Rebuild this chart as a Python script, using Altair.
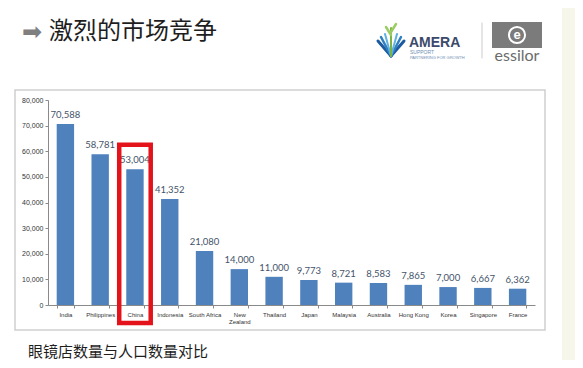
import altair as alt
import pandas as pd

countries = ["India", "Philippines", "China", "Indonesia", "South Africa", "New Zealand",
             "Thailand", "Japan", "Malaysia", "Australia", "Hong Kong", "Korea", "Singapore", "France"]
values = [70588, 58781, 53004, 41352, 21080, 14000, 11000, 9773, 8721, 8583, 7865, 7000, 6667, 6362]
y_ticks = [0, 10000, 20000, 30000, 40000, 50000, 60000, 70000, 80000]
highlight_country = ["China"]
highlight_top = [62500]
highlight_bottom = [-7000]

title_text = "激烈的市场竞争"
subtitle_text = "眼镜店数量与人口数量对比"

df = pd.DataFrame({"country": countries, "value": values})
hl = pd.DataFrame({"country": highlight_country, "top": highlight_top, "bottom": highlight_bottom})
one = pd.DataFrame({"a": [0]})

OX, OY = 48, 100  # plot origin on screen


def px(x):
    return alt.value(x - OX)


def py(y):
    return alt.value(y - OY)


x_scale = alt.Scale(domain=countries, paddingInner=0.5, paddingOuter=0.25)
y_scale = alt.Scale(domain=[0, 80000], nice=False, zero=True)

x_axis = alt.Axis(labelAngle=0, labelFont="Liberation Sans", labelFontSize=6,
                  labelColor="#333333", domainColor="#8a8a8a", tickColor="#8a8a8a",
                  tickSize=3, tickBand="extent", labelPadding=3, labelLineHeight=7,
                  labelOverlap=False, title=None,
                  labelExpr="datum.value == 'New Zealand' ? ['New', 'Zealand'] : datum.value")
y_axis = alt.Axis(values=y_ticks, grid=False, labelFont="Liberation Sans",
                  labelFontSize=7, labelColor="#333333", domainColor="#8a8a8a",
                  tickColor="#8a8a8a", tickSize=3, labelPadding=2, labelOverlap=False, title=None,
                  labelExpr="format(datum.value, ',')")

bars = alt.Chart(df).mark_bar(color="#4f81bd").encode(
    x=alt.X("country:N", scale=x_scale, axis=x_axis, title=None),
    y=alt.Y("value:Q", scale=y_scale, axis=y_axis, title=None),
)

labels = alt.Chart(df).mark_text(baseline="bottom", dy=-4, font="Lato", fontSize=9.5,
                                 color="#44546a").encode(
    x=alt.X("country:N", scale=x_scale, axis=x_axis, title=None),
    y=alt.Y("value:Q", scale=y_scale, axis=y_axis, title=None),
    text=alt.Text("value:Q", format=","),
)

box = alt.Chart(hl).mark_bar(fill=None, fillOpacity=0, stroke="#e3121b", strokeWidth=4.5,
                             width=31.5).encode(
    x=alt.X("country:N", scale=x_scale, axis=x_axis, title=None),
    y=alt.Y("top:Q", scale=y_scale, axis=y_axis, title=None),
    y2="bottom:Q",
)

layers = []

# beige page strip at right
layers.append(alt.Chart(one).mark_rect(color="#f7f6ea").encode(
    x=px(562), x2=px(600), y=py(0), y2=py(380)))

# chart frame
layers.append(alt.Chart(one).mark_rect(fill=None, fillOpacity=0, stroke="#cfcfcf", strokeWidth=1.5).encode(
    x=px(15), x2=px(545), y=py(90), y2=py(330)))

# title
layers.append(alt.Chart(one).mark_text(text="➡", font="DejaVu Sans", fontSize=24, color="#7f7f7f",
                                       align="center", baseline="middle").encode(x=px(32), y=py(33)))
layers.append(alt.Chart(one).mark_text(text=title_text, font="Noto Sans CJK SC", fontSize=24,
                                       color="#1e1e1e", align="left", baseline="middle").encode(
    x=px(49), y=py(32)))

# subtitle
layers.append(alt.Chart(one).mark_text(text=subtitle_text, font="Noto Sans CJK SC", fontSize=15,
                                       color="#1e1e1e", align="left", baseline="middle").encode(
    x=px(28), y=py(352)))


# AMERA logo (approximate)
def rule(x1, y1, x2, y2, color, w):
    return alt.Chart(one).mark_rule(color=color, strokeWidth=w, strokeCap="round").encode(
        x=px(x1), y=py(y1), x2=px(x2), y2=py(y2))


for (ex, ey, c, w) in [(378, 41, "#1d5a9e", 3), (381, 37, "#2f7fc1", 2.5), (385, 34, "#5fb1e0", 2),
                       (404, 41, "#1d5a9e", 3), (401, 37, "#2f7fc1", 2.5), (397, 34, "#5fb1e0", 2)]:
    layers.append(rule(391, 56, ex, ey, c, w))
layers.append(rule(391, 56, 391, 28, "#7cb342", 2))
layers.append(rule(391, 35, 386, 27, "#9ccc65", 2.5))
layers.append(rule(391, 32, 396, 24, "#9ccc65", 2.5))

layers.append(alt.Chart(one).mark_text(text="AMERA", font="Liberation Sans", fontWeight="bold",
                                       fontSize=14, color="#3b4a6b", align="left",
                                       baseline="alphabetic").encode(x=px(409), y=py(46.5)))
layers.append(alt.Chart(one).mark_text(text="SUPPORT", font="Liberation Sans", fontSize=5,
                                       color="#6f8fb5", align="left", baseline="alphabetic").encode(
    x=px(410), y=py(53.5)))
layers.append(alt.Chart(one).mark_text(text="PARTNERING FOR GROWTH", font="Liberation Sans", fontSize=4,
                                       color="#6f8fb5", align="left", baseline="alphabetic").encode(
    x=px(410), y=py(59)))
layers.append(rule(482, 23, 482, 58, "#cccccc", 1))

# essilor logo (approximate)
layers.append(alt.Chart(one).mark_rect(color="#7b7b7b").encode(
    x=px(492), x2=px(542), y=py(22), y2=py(48)))
layers.append(alt.Chart(one).mark_point(shape="circle", size=260, filled=False, stroke="#ffffff",
                                        strokeWidth=2, opacity=1).encode(x=px(517), y=py(35)))
layers.append(alt.Chart(one).mark_text(text="e", font="Liberation Sans", fontWeight="bold", fontSize=13,
                                       color="#ffffff", align="center", baseline="middle").encode(
    x=px(517), y=py(35)))
layers.append(alt.Chart(one).mark_text(text="essilor", font="Lato", fontSize=16, color="#6b6b6b",
                                       align="center", baseline="middle").encode(x=px(517), y=py(56)))

chart = alt.layer(*layers, bars, labels, box).properties(
    width=487, height=205,
    autosize=alt.AutoSizeParams(type="none"),
    padding={"left": 40, "top": 92, "right": 40, "bottom": 55},
    background="#ffffff",
).configure_view(stroke=None)

chart.save("out.html", embed_options={"renderer": "svg", "actions": False})
